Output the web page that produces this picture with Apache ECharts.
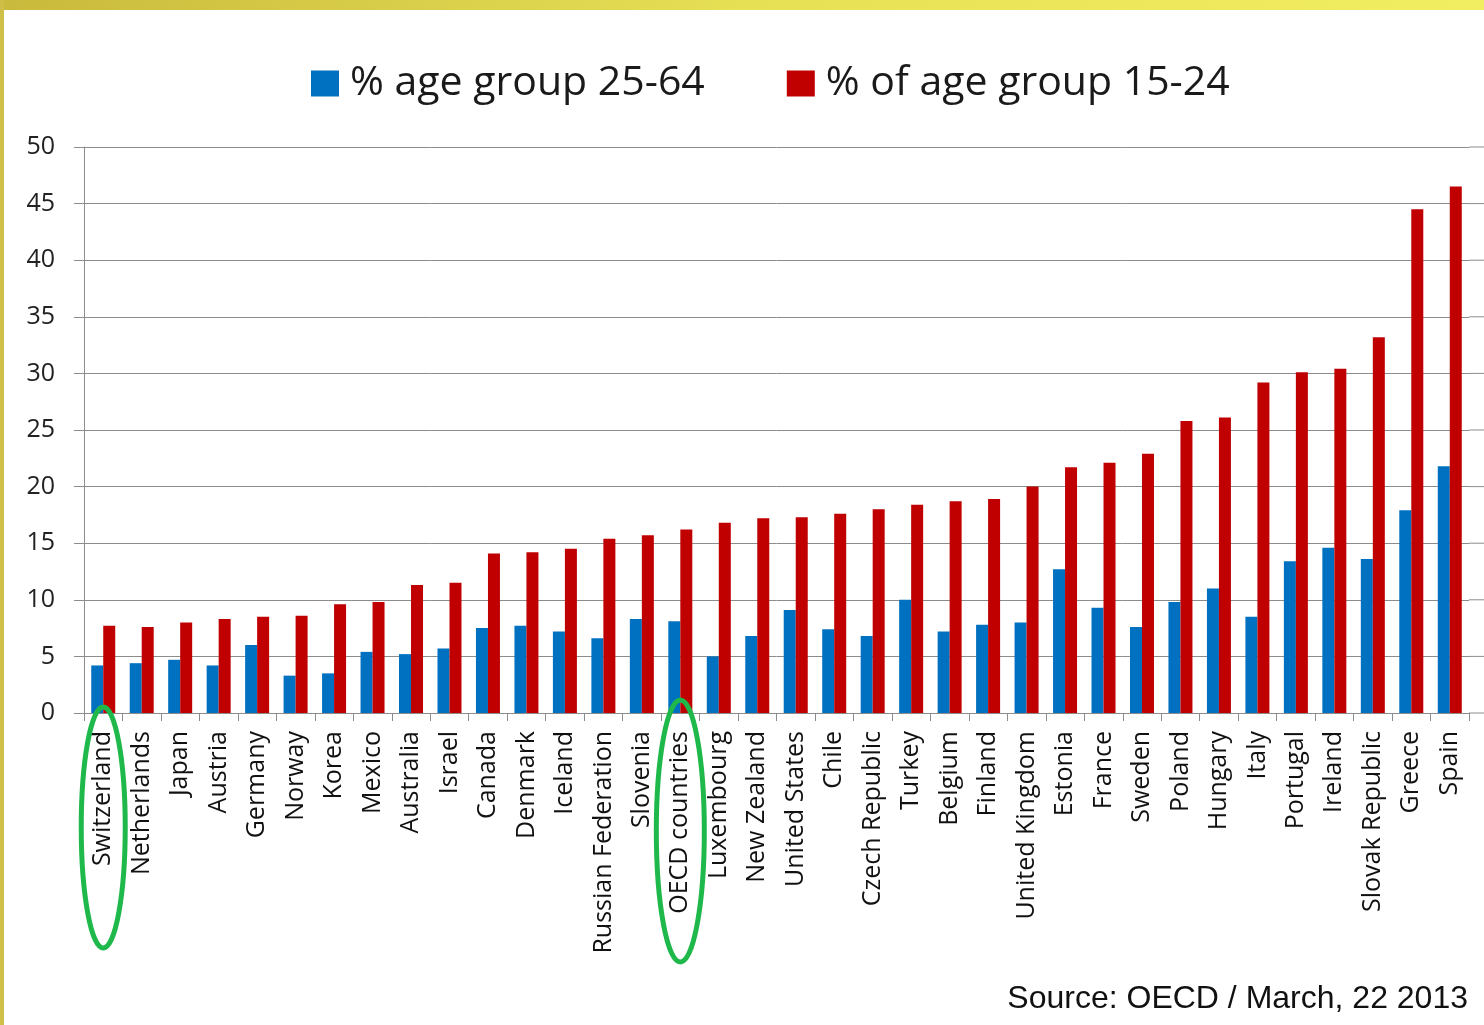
<!DOCTYPE html>
<html>
<head>
<meta charset="utf-8">
<script src="https://cdn.jsdelivr.net/npm/echarts@6/dist/echarts.min.js"></script>
<style>
html,body{margin:0;padding:0;background:#fff;}
#chart{width:1484px;height:1025px;}
</style>
</head>
<body>
<div id="chart"></div>
<script>
const categories = ["Switzerland","Netherlands","Japan","Austria","Germany","Norway","Korea","Mexico","Australia","Israel","Canada","Denmark","Iceland","Russian Federation","Slovenia","OECD countries","Luxembourg","New Zealand","United States","Chile","Czech Republic","Turkey","Belgium","Finland","United Kingdom","Estonia","France","Sweden","Poland","Hungary","Italy","Portugal","Ireland","Slovak Republic","Greece","Spain"];
const age25to64 = [4.2,4.4,4.7,4.2,6.0,3.3,3.5,5.4,5.2,5.7,7.5,7.7,7.2,6.6,8.3,8.1,5.0,6.8,9.1,7.4,6.8,10.0,7.2,7.8,8.0,12.7,9.3,7.6,9.8,11.0,8.5,13.4,14.6,13.6,17.9,21.8];
const age15to24 = [7.7,7.6,8.0,8.3,8.5,8.6,9.6,9.8,11.3,11.5,14.1,14.2,14.5,15.4,15.7,16.2,16.8,17.2,17.3,17.6,18.0,18.4,18.7,18.9,20.0,21.7,22.1,22.9,25.8,26.1,29.2,30.1,30.4,33.2,44.5,46.5];
const seriesNames = ["% age group 25-64", "% of age group 15-24"];
const highlighted = ["Switzerland", "OECD countries"];
const yTicks = [0,5,10,15,20,25,30,35,40,45,50];
const sourceText = "Source: OECD / March, 22 2013";

const chart = echarts.init(document.getElementById('chart'));
const gridColor = '#8c8c8c';
const option = {
  backgroundColor: '#ffffff',
  animation: false,
  legend: {
    top: 58,
    left: 306,
    itemWidth: 28,
    itemHeight: 26,
    itemGap: 82,
    icon: 'rect',
    textStyle: {fontFamily: 'Open Sans', fontSize: 41, color: '#1a1a1a', padding: [0,0,0,6]},
    data: seriesNames
  },
  grid: {left: 84, right: 15, top: 147, bottom: 312, containLabel: false},
  xAxis: {
    type: 'category',
    data: categories,
    axisLine: {lineStyle: {color: gridColor, width: 1}},
    axisTick: {show: true, length: 8, lineStyle: {color: gridColor}},
    axisLabel: {rotate: 90, interval: 0, margin: 18, fontFamily: 'Open Sans', fontSize: 25, color: '#111'}
  },
  yAxis: {
    type: 'value',
    min: 0, max: 50, interval: 5,
    axisLine: {show: true, lineStyle: {color: gridColor, width: 1}},
    axisTick: {show: true, length: 10, lineStyle: {color: gridColor}},
    splitLine: {show: true, lineStyle: {color: gridColor, width: 1}},
    axisLabel: {margin: 29, fontFamily: 'Open Sans', fontSize: 25, color: '#222',
      customValues: yTicks}
  },
  series: [
    {name: seriesNames[0], type: 'bar', data: age25to64, barWidth: 12, barGap: '0%',
     itemStyle: {color: '#0070C0'}},
    {name: seriesNames[1], type: 'bar', data: age15to24, barWidth: 12, barGap: '0%',
     itemStyle: {color: '#C00000'}}
  ]
};
chart.setOption(option);

function addGraphics() {
  const els = [];
  // yellow slide border
  els.push({type: 'rect', shape: {x: 0, y: 0, width: 1484, height: 10},
    style: {fill: new echarts.graphic.LinearGradient(0,0,1,0,[{offset:0,color:'#c9b93c'},{offset:0.5,color:'#e6e055'},{offset:1,color:'#f2ee62'}])}, z: 100});
  els.push({type: 'rect', shape: {x: 0, y: 0, width: 4, height: 1025},
    style: {fill: '#cdbf48'}, z: 100});
  // extend gridlines to the right edge
  const rect = chart.getModel().getComponent('grid').coordinateSystem.getRect();
  const rightX = rect.x + rect.width;
  yTicks.forEach(v => {
    const py = chart.convertToPixel({yAxisIndex: 0}, v);
    els.push({type: 'line', shape: {x1: rightX, y1: py, x2: 1484, y2: py},
      style: {stroke: gridColor, lineWidth: 1}, z: 1});
  });
  // green highlight ellipses
  const zeroY = chart.convertToPixel({yAxisIndex: 0}, 0);
  const specs = {"Switzerland": {rx: 22, top: 6, bottom: 235}, "OECD countries": {rx: 24, top: 13, bottom: 249}};
  highlighted.forEach(name => {
    const cx = chart.convertToPixel({xAxisIndex: 0}, name);
    const s = specs[name];
    const y1 = zeroY - s.top, y2 = zeroY + s.bottom;
    els.push({type: 'ellipse', shape: {cx: cx, cy: (y1 + y2) / 2, rx: s.rx, ry: (y2 - y1) / 2},
      style: {fill: 'none', stroke: '#1fb84a', lineWidth: 5}, z: 50});
  });
  // source
  els.push({type: 'text', right: 16, top: 983,
    style: {text: sourceText, fontFamily: 'Liberation Sans', fontSize: 32, fill: '#111'}, z: 50});
  chart.setOption({graphic: els});
}
addGraphics();
</script>
</body>
</html>
